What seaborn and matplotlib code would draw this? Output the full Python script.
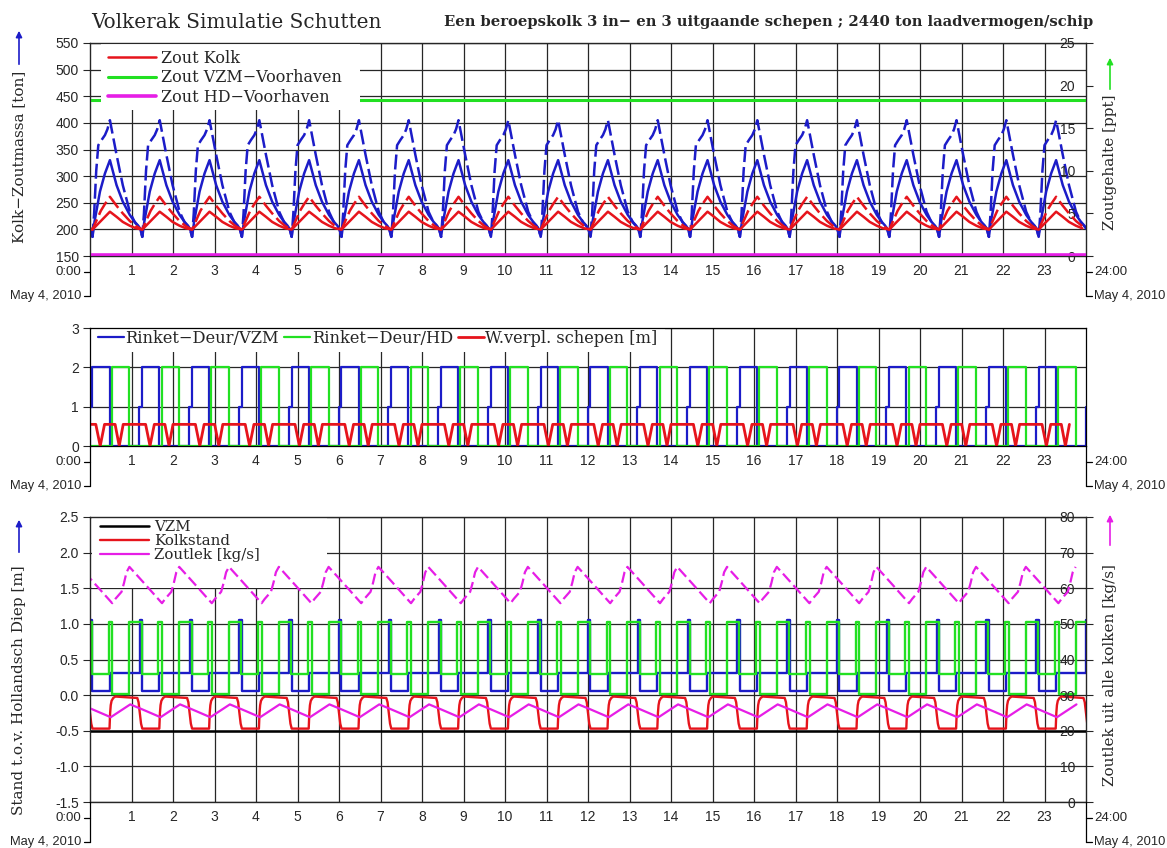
import numpy as np
import matplotlib
matplotlib.use("Agg")
import matplotlib.pyplot as plt
import seaborn as sns
from matplotlib.lines import Line2D
from matplotlib.patches import Rectangle, FancyArrowPatch

# ------------------------------------------------------------------ data
HOURS = list(range(1, 24))
HOUR_LABELS = [str(h) for h in HOURS]
# start times (h) of each lock cycle
CYCLE_STARTS = [-1.14, 0.06, 1.26, 2.46, 3.66, 4.86, 6.06, 7.26, 8.46, 9.66, 10.86,
                12.06, 13.26, 14.46, 15.66, 16.86, 18.06, 19.26, 20.46, 21.66, 22.86]

# panel 1 : salt mass in lock [ton] (left) and salinity [ppt] (right), one cycle
MASS_DASH_PHASE = [0.00, 0.04, 0.09, 0.14, 0.22, 0.30, 0.36, 0.42, 0.50, 0.58, 0.73, 0.90, 1.02, 1.10, 1.15]
MASS_DASH_TON = [186, 230, 310, 358, 368, 377, 388, 405, 372, 340, 283, 233, 213, 206, 201]
MASS_SOLID_PHASE = [0.00, 0.05, 0.18, 0.30, 0.42, 0.58, 0.73, 0.90, 1.02, 1.10, 1.15]
MASS_SOLID_TON = [186, 215, 271, 305, 330, 283, 252, 227, 214, 207, 201]
KOLK_DASH_PHASE = [0.00, 0.10, 0.20, 0.30, 0.42, 0.58, 0.73, 0.90, 1.05]
KOLK_DASH_PPT = [3.1, 4.2, 5.3, 6.1, 6.95, 5.9, 5.0, 4.1, 3.5]
KOLK_SOLID_PHASE = [0.00, 0.42, 0.58, 0.73, 0.90, 1.05]
KOLK_SOLID_PPT = [3.1, 5.2, 4.6, 4.0, 3.55, 3.25]
VZM_T = [0, 24]
VZM_PPT = [18.3, 18.3]
HD_T = [0, 24]
HD_PPT = [0.1, 0.1]

# panel 2 : gate state and ship displacement, one cycle
DEUR_VZM_PHASE = [0.00, 0.41, 1.13]
DEUR_VZM = [2, 0, 1]
DEUR_HD_PHASE = [0.00, 0.467, 0.89]
DEUR_HD = [0, 2, 0]
WVERPL_PHASE = [0.00, 0.08, 0.186, 0.29, 0.545, 0.644, 0.74]
WVERPL = [0.55, 0.55, 0.0, 0.55, 0.55, 0.0, 0.55]

# panel 3 : water levels [m] (left) and salt leak [kg/s] (right), one cycle
STAND_VZM_T = [0, 24]
STAND_VZM = [-0.5, -0.5]
KOLKSTAND_PHASE = [0.00, 0.41, 0.425, 0.44, 0.46, 0.50, 0.55, 1.08, 1.11, 1.14, 1.17]
KOLKSTAND = [-0.47, -0.47, -0.25, -0.14, -0.08, -0.04, -0.02, -0.04, -0.10, -0.25, -0.40]
STAND_DEUR_VZM_PHASE = [0.00, 0.41, 1.14]
STAND_DEUR_VZM = [0.06, 0.315, 1.05]
STAND_DEUR_HD_PHASE = [0.00, 0.39, 0.48, 0.89, 1.19]
STAND_DEUR_HD = [0.30, 1.02, 0.016, 1.02, 0.30]
LEK_SOLID_PHASE = [0.00, 0.44, 0.91]
LEK_SOLID = [26.0, 23.8, 27.4]
LEK_DASH_PHASE = [0.00, 0.475, 0.55, 0.70, 0.76, 0.82, 0.89]
LEK_DASH = [62.0, 55.8, 57.0, 59.0, 61.5, 64.5, 66.0]

# ------------------------------------------------------------------ style
sns.set_style("ticks")
SERIF = ["DejaVu Serif"]
SANS = ["Liberation Sans", "DejaVu Sans"]
plt.rcParams["font.family"] = SANS
plt.rcParams["font.size"] = 10

BLUE = "#1c1cc8"
RED = "#e6141c"
GREEN = "#22e022"
MAGENTA = "#e61ee6"
GRID = "#262626"

W, H = 1167, 848


def fx(x):
    return x / W


def fy(y):
    return 1 - y / H


def ax_rect(left, top, right, bottom):
    return [left / W, 1 - bottom / H, (right - left) / W, (bottom - top) / H]


def cycles(phase, vals):
    x = np.concatenate([s + np.asarray(phase, float) for s in CYCLE_STARTS])
    y = np.tile(np.asarray(vals, float), len(CYCLE_STARTS))
    return x, y


def line(ax, x, y, color, lw=1.6, ls="-", drawstyle="default", zorder=2):
    sns.lineplot(x=x, y=y, ax=ax, color=color, lw=lw, linestyle=ls,
                 estimator=None, sort=False, drawstyle=drawstyle,
                 legend=False, zorder=zorder)


fig = plt.figure(figsize=(W / 100, H / 100), dpi=100)
fig.patch.set_facecolor("white")

PANELS = [(43, 256), (328, 446), (517, 802)]
axes = [fig.add_axes(ax_rect(90, t, 1086, b)) for t, b in PANELS]


def base_style(ax):
    ax.set_xlim(0, 24)
    ax.set_xticks(HOURS)
    ax.set_xticklabels(HOUR_LABELS)
    ax.tick_params(axis="x", length=0, pad=6, labelsize=10)
    ax.tick_params(axis="y", direction="out", length=5, width=0.8, pad=3, labelsize=10)
    ax.grid(True, color=GRID, lw=0.9)
    ax.set_axisbelow(True)
    for sp in ax.spines.values():
        sp.set_visible(True)
        sp.set_color("black")
        sp.set_linewidth(0.9)
    ax.set_xlabel("")
    ax.set_ylabel("")


def right_style(axr):
    axr.grid(False)
    axr.tick_params(axis="y", direction="out", length=5, width=0.8, pad=-13, labelsize=10)
    for lab in axr.get_yticklabels():
        lab.set_horizontalalignment("right")
    axr.set_xlabel("")
    axr.set_ylabel("")


# ---------------- panel 1
ax1 = axes[0]
ax1r = ax1.twinx()
x, y = cycles(MASS_SOLID_PHASE, MASS_SOLID_TON)
line(ax1, x, y, BLUE, lw=1.8)
x, y = cycles(MASS_DASH_PHASE, MASS_DASH_TON)
line(ax1, x, y, BLUE, lw=1.8, ls=(0, (6, 2)))
x, y = cycles(KOLK_SOLID_PHASE, KOLK_SOLID_PPT)
line(ax1r, x, y, RED, lw=1.8)
x, y = cycles(KOLK_DASH_PHASE, KOLK_DASH_PPT)
line(ax1r, x, y, RED, lw=1.8, ls=(0, (6, 2)))
line(ax1r, np.array(VZM_T, float), np.array(VZM_PPT), GREEN, lw=2.2)
line(ax1r, np.array(HD_T, float), np.array(HD_PPT), MAGENTA, lw=2.6)
base_style(ax1)
ax1.set_ylim(150, 550)
ax1.set_yticks(range(150, 551, 50))
ax1r.set_xlim(0, 24)
ax1r.set_ylim(0, 25)
ax1r.set_yticks(range(0, 26, 5))
right_style(ax1r)
ax1r.add_patch(Rectangle((0.011, 0.685), 0.260, 0.312, transform=ax1r.transAxes,
                         facecolor="white", edgecolor="none", zorder=2.4))
h1 = [Line2D([], [], color=RED, lw=1.8), Line2D([], [], color=GREEN, lw=2.2),
      Line2D([], [], color=MAGENTA, lw=2.6)]
leg = ax1r.legend(h1, ["Zout Kolk", "Zout VZM\u2212Voorhaven", "Zout HD\u2212Voorhaven"],
                  loc="upper left", bbox_to_anchor=(0.018, 0.968), frameon=False,
                  borderpad=0, borderaxespad=0, handlelength=3.0, handletextpad=0.3,
                  labelspacing=0.15, prop={"family": SERIF, "size": 11.5})
leg.set_zorder(5)

# ---------------- panel 2
ax2 = axes[1]
x, y = cycles(DEUR_VZM_PHASE, DEUR_VZM)
line(ax2, x, y, BLUE, lw=1.6, drawstyle="steps-post")
x, y = cycles(DEUR_HD_PHASE, DEUR_HD)
line(ax2, x, y, GREEN, lw=1.6, drawstyle="steps-post")
x, y = cycles(WVERPL_PHASE, WVERPL)
line(ax2, x, y, RED, lw=2.0)
base_style(ax2)
ax2.set_ylim(0, 3)
ax2.set_yticks([0, 1, 2, 3])
ax2.tick_params(axis="y", right=False)
ax2.add_patch(Rectangle((0.002, 0.797), 0.575, 0.198, transform=ax2.transAxes,
                        facecolor="white", edgecolor="none", zorder=1))
h2 = [Line2D([], [], color=BLUE, lw=1.6), Line2D([], [], color=GREEN, lw=1.6),
      Line2D([], [], color=RED, lw=2.0)]
leg2 = ax2.legend(h2, ["Rinket\u2212Deur/VZM", "Rinket\u2212Deur/HD", "W.verpl. schepen [m]"],
                  loc="upper left", bbox_to_anchor=(0.008, 0.985), frameon=False, ncol=3,
                  borderpad=0, borderaxespad=0, handlelength=1.6, handletextpad=0.1,
                  columnspacing=0.3, prop={"family": SERIF, "size": 11.7})
leg2.set_zorder(5)

# ---------------- panel 3
ax3 = axes[2]
ax3r = ax3.twinx()
line(ax3, np.array(STAND_VZM_T, float), np.array(STAND_VZM), "black", lw=1.8)
x, y = cycles(STAND_DEUR_VZM_PHASE, STAND_DEUR_VZM)
line(ax3, x, y, BLUE, lw=1.7, drawstyle="steps-post")
x, y = cycles(STAND_DEUR_HD_PHASE, STAND_DEUR_HD)
line(ax3, x, y, GREEN, lw=1.7, drawstyle="steps-post")
x, y = cycles(KOLKSTAND_PHASE, KOLKSTAND)
line(ax3, x, y, RED, lw=1.7)
x, y = cycles(LEK_SOLID_PHASE, LEK_SOLID)
line(ax3r, x, y, MAGENTA, lw=1.6)
x, y = cycles(LEK_DASH_PHASE, LEK_DASH)
line(ax3r, x, y, MAGENTA, lw=1.6, ls=(0, (5, 2)))
base_style(ax3)
ax3.set_ylim(-1.5, 2.5)
ax3.set_yticks(np.arange(-1.5, 2.51, 0.5))
ax3.set_yticklabels([f"{v:.1f}" for v in np.arange(-1.5, 2.51, 0.5)])
ax3r.set_xlim(0, 24)
ax3r.set_ylim(0, 80)
ax3r.set_yticks(range(0, 81, 10))
right_style(ax3r)
ax3.add_patch(Rectangle((0.002, 0.751), 0.236, 0.246, transform=ax3.transAxes,
                        facecolor="white", edgecolor="none", zorder=1))
h3 = [Line2D([], [], color="black", lw=1.8), Line2D([], [], color=RED, lw=1.7),
      Line2D([], [], color=MAGENTA, lw=1.6)]
leg3 = ax3r.legend(h3, ["VZM", "Kolkstand", "Zoutlek [kg/s]"],
                   loc="upper left", bbox_to_anchor=(0.010, 0.99), frameon=False,
                   borderpad=0, borderaxespad=0, handlelength=3.3, handletextpad=0.3,
                   labelspacing=0.0, prop={"family": SERIF, "size": 10.8})
leg3.set_zorder(5)

# ---------------- time axis decorations (0:00 / 24:00 / date)
def fig_line(xs, ys, lw=0.9):
    fig.add_artist(Line2D([fx(v) for v in xs], [fy(v) for v in ys],
                          transform=fig.transFigure, color="black", lw=lw))


for (top, bottom) in PANELS:
    y1, y2 = bottom + 16, bottom + 40
    fig_line([90, 90], [bottom, y2])
    fig_line([84, 90], [y1, y1])
    fig_line([84, 90], [y2, y2])
    fig.text(fx(81), fy(y1), "0:00", ha="right", va="center", fontsize=9.5)
    fig.text(fx(81), fy(y2), "May 4, 2010", ha="right", va="center", fontsize=9.3)
    fig_line([1086, 1086], [bottom, y2])
    fig_line([1086, 1092], [y1, y1])
    fig_line([1086, 1092], [y2, y2])
    fig.text(fx(1094), fy(y1), "24:00", ha="left", va="center", fontsize=9.5)
    fig.text(fx(1094), fy(y2), "May 4, 2010", ha="left", va="center", fontsize=9.3)

# ---------------- titles and axis labels
fig.text(fx(91), fy(22), "Volkerak Simulatie Schutten", ha="left", va="center",
         fontsize=14.4, family=SERIF)
fig.text(fx(1093), fy(22),
         "Een beroepskolk 3 in\u2212 en 3 uitgaande schepen ; 2440 ton laadvermogen/schip",
         ha="right", va="center", fontsize=10.6, family=SERIF, weight="bold")


def axis_label(xc, yc, text, arrow_from, arrow_to, color):
    fig.text(fx(xc), fy(yc), text, rotation=90, ha="center", va="center",
             fontsize=11, family=SERIF)
    fig.add_artist(FancyArrowPatch((fx(xc), fy(arrow_from)), (fx(xc), fy(arrow_to)),
                                   transform=fig.transFigure, arrowstyle="-|>",
                                   mutation_scale=9, color=color, lw=1.2))


axis_label(19, 157, "Kolk\u2212Zoutmassa [ton]", 67, 28, BLUE)
axis_label(1110, 162, "Zoutgehalte [ppt]", 92, 55, GREEN)
axis_label(19, 690, "Stand t.o.v. Hollandsch Diep [m]", 555, 517, BLUE)
axis_label(1110, 675, "Zoutlek uit alle kolken [kg/s]", 548, 512, MAGENTA)

fig.savefig("out.png", dpi=100, facecolor="white")
